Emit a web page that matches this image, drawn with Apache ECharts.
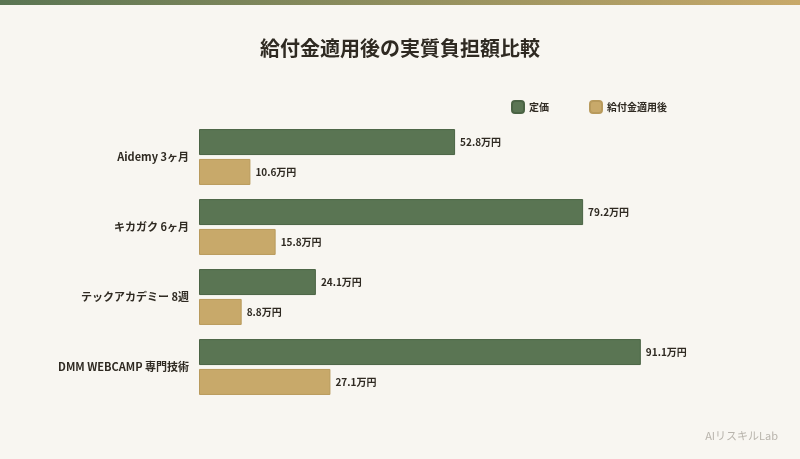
<!DOCTYPE html>
<html><head><meta charset="utf-8">
<script src="https://cdn.jsdelivr.net/npm/echarts@6/dist/echarts.min.js"></script>
<style>
html,body{margin:0;padding:0;background:#f8f6f1;}
#bar{height:5px;background:linear-gradient(90deg,#5a7553,#c8a96a);}
#c{width:800px;height:454px;}
</style></head>
<body><div id="bar"></div><div id="c"></div>
<script>
const categories = ['Aidemy 3ヶ月', 'キカガク 6ヶ月', 'テックアカデミー 8週', 'DMM WEBCAMP 専門技術'];
const listPrice = [52.8, 79.2, 24.1, 91.1];
const afterSubsidy = [10.6, 15.8, 8.8, 27.1];

const font = '"Noto Sans CJK JP", "Noto Sans", sans-serif';
const chart = echarts.init(document.getElementById('c'));
const lbl = { show: true, position: 'right', formatter: p => p.value + '万円', color: '#2f2a22', fontSize: 10, fontWeight: 'bold', fontFamily: font };

chart.setOption({
    backgroundColor: '#f8f6f1',
    title: { text: '給付金適用後の実質負担額比較', left: 'center', top: 28,
        textStyle: { fontSize: 20, fontWeight: 'bold', color: '#2f2a22', fontFamily: font } },
    legend: { top: 90, right: 128, itemWidth: 12, itemHeight: 12, itemGap: 40,
        textStyle: { fontSize: 10, fontWeight: 'bold', color: '#2f2a22', fontFamily: font } },
    graphic: [{ type: 'text', right: 22, bottom: 18,
        style: { text: 'AIリスキルLab', fill: '#b8b4ac', fontSize: 11, fontFamily: font } }],
    grid: { left: 199, right: 116, top: 117, bottom: 57 },
    xAxis: { type: 'value', min: 0, max: 100, show: false },
    yAxis: { type: 'category', data: categories, inverse: true,
        axisLine: { show: false }, axisTick: { show: false },
        axisLabel: { color: '#2f2a22', fontSize: 11, fontWeight: 'bold', fontFamily: font, margin: 10 } },
    series: [
        { name: '定価', type: 'bar', data: listPrice, barWidth: 26, barGap: '15%',
          itemStyle: { color: '#5a7553', borderColor: '#4a6344', borderWidth: 1 }, label: lbl },
        { name: '給付金適用後', type: 'bar', data: afterSubsidy, barWidth: 26,
          itemStyle: { color: '#c8a96a', borderColor: '#b89a5c', borderWidth: 1 }, label: lbl }
    ]
});
</script></body></html>
